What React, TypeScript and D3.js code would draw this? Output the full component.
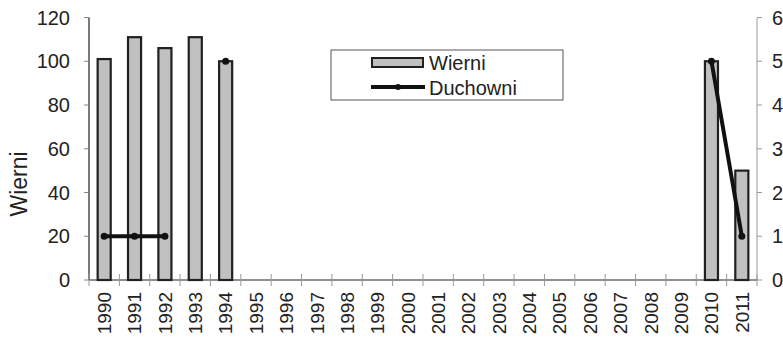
import * as d3 from "d3";

const years = [
  "1990", "1991", "1992", "1993", "1994", "1995", "1996", "1997", "1998", "1999", "2000",
  "2001", "2002", "2003", "2004", "2005", "2006", "2007", "2008", "2009", "2010", "2011",
];
const wierni: (number | null)[] = [
  101, 111, 106, 111, 100, null, null, null, null, null, null,
  null, null, null, null, null, null, null, null, null, 100, 50,
];
const duchowni: (number | null)[] = [
  1, 1, 1, null, 5, null, null, null, null, null, null,
  null, null, null, null, null, null, null, null, null, 5, 1,
];
const leftTicks = [0, 20, 40, 60, 80, 100, 120];
const rightTicks = [0, 1, 2, 3, 4, 5, 6];

const W = 783;
const H = 340;
const margin = { top: 17.5, right: 26, bottom: 60, left: 89 };
const FONT = "Liberation Sans, Arial, sans-serif";

const App = () => {
  const innerW = W - margin.left - margin.right;
  const innerH = H - margin.top - margin.bottom;

  const x = d3.scaleBand<string>().domain(years).range([0, innerW]).paddingInner(0.57).paddingOuter(0.285);
  const xEdges = d3.scaleLinear().domain([0, years.length]).range([0, innerW]);
  const yL = d3.scaleLinear().domain([0, 120]).range([innerH, 0]);
  const yR = d3.scaleLinear().domain([0, 6]).range([innerH, 0]);

  const line = d3
    .line<number | null>()
    .defined((d) => d !== null)
    .x((_, i) => (x(years[i]) ?? 0) + x.bandwidth() / 2)
    .y((d) => yR(d as number));

  const barColor = "#c0c0c0";
  const edge = "#231f20";
  const legendX = 331 - margin.left;
  const legendY = 50 - margin.top;

  return (
    <svg width={W} height={H} style={{ position: "absolute", left: 0, top: 0, background: "white" }}>
      <g transform={`translate(${margin.left},${margin.top})`} fontFamily={FONT}>
        {/* bars */}
        {wierni.map((v, i) =>
          v === null ? null : (
            <rect
              key={years[i]}
              x={x(years[i])}
              y={yL(v)}
              width={x.bandwidth()}
              height={innerH - yL(v)}
              fill={barColor}
              stroke={edge}
              strokeWidth={2.2}
            />
          )
        )}

        {/* left axis */}
        <line x1={0} x2={0} y1={0} y2={innerH} stroke="#222" strokeWidth={1.2} />
        {leftTicks.map((t) => (
          <g key={t} transform={`translate(0,${yL(t)})`}>
            <line x1={-5} x2={0} stroke="#888" />
            <text x={-19} dy="0.36em" textAnchor="end" fontSize={20} fill="#222">
              {t}
            </text>
          </g>
        ))}
        <text
          transform={`translate(${19 - margin.left},${184 - margin.top}) rotate(-90)`}
          textAnchor="middle"
          dy="0.35em"
          fontSize={23}
          fill="#222"
        >
          Wierni
        </text>

        {/* right axis */}
        <line x1={innerW} x2={innerW} y1={0} y2={innerH} stroke="#999" strokeWidth={1} />
        {rightTicks.map((t) => (
          <g key={t} transform={`translate(${innerW},${yR(t)})`}>
            <line x1={0} x2={5} stroke="#999" />
            <text x={15} dy="0.36em" textAnchor="start" fontSize={20} fill="#222">
              {t}
            </text>
          </g>
        ))}

        {/* bottom axis */}
        <line x1={0} x2={innerW} y1={innerH} y2={innerH} stroke="#222" strokeWidth={1.2} />
        {d3.range(years.length + 1).map((k) => (
          <line key={k} x1={xEdges(k)} x2={xEdges(k)} y1={innerH - 6} y2={innerH + 6} stroke="#999" />
        ))}
        {years.map((yr) => (
          <text
            key={yr}
            transform={`translate(${(x(yr) ?? 0) + x.bandwidth() / 2},${innerH + 12}) rotate(-90)`}
            textAnchor="end"
            dy="0.36em"
            fontSize={19}
            fill="#222"
          >
            {yr}
          </text>
        ))}

        {/* line series */}
        <path d={line(duchowni) ?? ""} fill="none" stroke="#111" strokeWidth={4} />
        {duchowni.map((v, i) =>
          v === null ? null : (
            <circle key={years[i]} cx={(x(years[i]) ?? 0) + x.bandwidth() / 2} cy={yR(v)} r={3.5} fill="#111" />
          )
        )}

        {/* legend */}
        <g transform={`translate(${legendX},${legendY})`}>
          <rect x={0} y={0} width={232} height={50} fill="white" stroke="#555" strokeWidth={1} />
          <rect x={41} y={8} width={51} height={9} fill={barColor} stroke={edge} strokeWidth={2} />
          <text x={98} y={13} dy="0.36em" fontSize={20} fill="#222">
            Wierni
          </text>
          <line x1={40} x2={94} y1={37} y2={37} stroke="#111" strokeWidth={4} />
          <circle cx={67} cy={37} r={3} fill="#111" />
          <text x={98} y={38} dy="0.36em" fontSize={20} fill="#222">
            Duchowni
          </text>
        </g>
      </g>
    </svg>
  );
};

export default App;
